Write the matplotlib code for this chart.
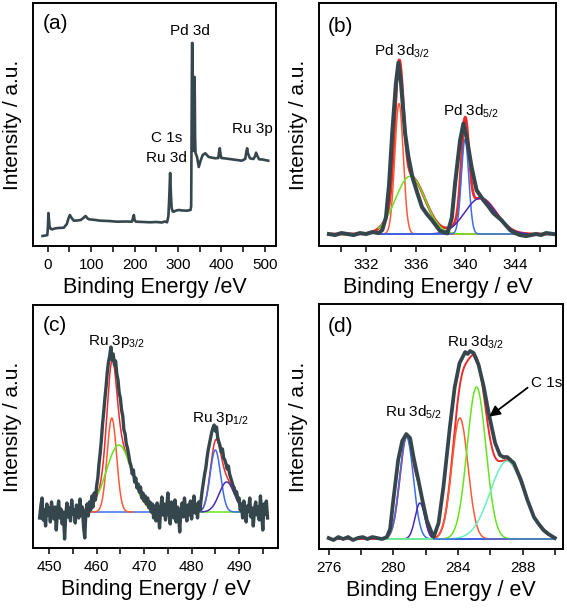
import numpy as np
import matplotlib.pyplot as plt
from matplotlib.ticker import MultipleLocator

plt.rcParams['font.family'] = ['Liberation Sans', 'DejaVu Sans']
plt.rcParams['mathtext.default'] = 'regular'

TRACE = '#36464d'
FIT = '#ee2a2a'
ORANGE = '#ff5a34'
GREEN = '#66e41c'
BLUE = '#3c6ee6'
PURPLE = '#4a2ab4'
MINT = '#6af0c0'

# (a) survey spectrum
survey_energy = [-12, -5, -1, 0.5, 1.5, 2.5, 4, 7, 10.6, 18, 25, 37, 44, 48, 51, 55, 60, 68,
                 76, 82, 87, 92, 95, 110, 121, 140, 160, 180, 194, 197, 198.5, 200, 203, 220,
                 236, 250, 263, 270, 275, 278, 280, 282, 284, 285.5, 288, 290, 296, 302, 310,
                 321, 329, 330.5, 331.5, 332.5, 333.5, 334.5, 335.5, 336.5, 337.5, 338.5,
                 339.5, 340.5, 344, 348, 352, 357, 363, 371, 386, 393, 395, 396.5, 398, 400,
                 410, 424, 447, 455, 458, 459.5, 461, 466, 474, 478, 480, 482, 487, 495, 500, 508]
survey_counts = [10, 10.5, 11, 20, 33, 28, 20, 17, 16.7, 17.7, 18, 18.3, 22, 28, 31, 28, 25.3, 25.5,
                 26, 28, 30, 27.5, 26.7, 26, 25.3, 25, 24.3, 24.5, 24.3, 29, 31, 26, 24.3, 24,
                 23.7, 24, 23.5, 24.5, 23.7, 30, 49, 73, 50, 37.7, 34.5, 34.3, 35.5, 36, 35.5,
                 35.3, 36, 40, 120, 203, 203, 120, 95, 110, 169, 169,
                 110, 93, 89, 79, 85, 91, 92.7, 89, 87.7, 88, 95, 97.7, 92, 88,
                 87.5, 86.7, 85.3, 87, 95, 97.7, 93, 87.7, 87, 90, 93.3, 91, 86.7, 86.5, 86, 85.3]

# (b) Pd 3d
pd_energy = [329.0, 329.5, 330.0, 330.5, 331.0, 331.5, 332.0, 332.5, 333.0, 333.3, 333.6,
             333.85, 334.1, 334.4, 334.6, 334.8, 335.14, 335.4, 335.73, 336.13, 336.5, 336.9,
             337.3, 337.9, 338.2, 338.55, 338.9, 339.17, 339.57, 339.84, 340.1, 340.5, 340.9,
             341.45, 341.9, 342.25, 342.9, 343.6, 344.0, 344.4, 344.9, 345.3, 345.7, 346.1,
             346.5, 347.1]
pd_counts = [12, 11, 13, 12, 11, 13, 12, 14, 13, 16, 29,
             62, 113, 163, 184, 165, 113, 90, 69, 53, 39, 32,
             26, 16, 14, 12.7, 28, 63, 106, 123, 109, 79, 56,
             46, 39, 33, 26, 16, 13, 11, 10, 11, 12, 11,
             13, 12]
pd_base = 12
pd_centers = [334.65, 335.55, 339.97, 341.2]
pd_heights = [131, 58, 95, 36]
pd_sigmas = [0.34, 1.19, 0.3, 1.25]
pd_colors = [ORANGE, GREEN, BLUE, PURPLE]

# (c) Ru 3p, 0.25 eV steps from 448 eV
ru3p_start = 448.0
ru3p_step = 0.25
ru3p_counts = [
    30, 42, 50, 28, 38, 22, 44, 33, 40, 26, 46, 35, 29, 41, 18, 37, 47, 30, 39, 24, 36, 9, 33, 45,
    31, 40, 27, 48, 34, 38, 25, 43, 36, 30, 49, 33, 41, 21, 10, 37, 44, 32, 46, 38, 52, 41, 55, 48,
    62, 70, 84, 95, 108, 124, 136, 150, 162, 176, 186, 192, 201, 188, 194, 183, 187, 174, 168, 155,
    150, 138, 132, 118, 114, 104, 100, 93, 86, 82, 74, 78, 66, 70, 60, 64, 56, 61, 50, 55, 47, 52,
    44, 50, 40, 46, 36, 44,
    30, 42, 27, 45, 38, 20, 40, 51, 33, 44, 28, 39, 55, 35, 24, 46, 37, 30, 48, 26, 41, 34, 16, 39,
    45, 31, 50, 36, 27, 43, 33, 47, 29, 40, 52, 35, 44, 30, 46, 38,
    48, 58, 66, 74, 80, 90, 98, 104, 110, 116, 120, 123, 117, 121, 110, 106, 102, 96, 99, 90, 88,
    84, 79, 82, 74, 70, 66, 62, 60, 54, 56, 48, 50,
    38, 44, 30, 47, 35, 26, 42, 37, 50, 31, 40, 22, 39, 46, 33, 41, 28, 52, 36, 18, 44, 34, 47, 30]
ru3p_base = 36
ru3p_centers = [463.2, 464.7, 485.0, 487.4]
ru3p_heights = [94, 67, 62, 30]
ru3p_sigmas = [1.0, 2.7, 1.1, 1.6]
ru3p_windows = [(458.6, 467.6), (460.4, 471.5), (482.0, 491.0), (482.1, 490.5)]
ru3p_colors = [ORANGE, GREEN, BLUE, PURPLE]

# (d) Ru 3d / C 1s
ru3d_energy = [276.0, 276.3, 276.6, 276.9, 277.2, 277.5, 277.8, 278.1, 278.4, 278.7, 279.0,
               279.3, 279.6, 279.8, 280.0, 280.3, 280.55, 280.8, 281.04, 281.25, 281.55,
               281.76, 282.07, 282.38, 282.5, 282.8, 283.1, 283.5, 283.8, 284.1, 284.45, 284.6,
               284.75, 284.97, 285.28, 285.6, 285.9, 286.3, 286.6, 286.8, 287.05, 287.25,
               287.46, 287.9, 288.3, 288.7, 289.0, 289.3, 289.6, 290.0]
ru3d_counts = [11, 9, 12, 10, 12, 9, 11, 12, 10, 12, 11,
               10, 12, 20, 49, 89, 108, 115, 111, 92, 69,
               52, 29, 16, 12, 26, 62, 122, 162, 186, 197, 195,
               198, 196, 184, 162, 136, 106, 94, 92, 92, 89,
               86, 69, 49, 32, 25, 19, 15, 11]
ru3d_base = 10
ru3d_centers = [280.82, 281.65, 284.12, 285.15, 287.05]
ru3d_heights = [102, 36, 121, 152, 78]
ru3d_sigmas = [0.42, 0.3, 0.5, 0.58, 1.05]
ru3d_colors = [BLUE, PURPLE, ORANGE, GREEN, MINT]


def gauss(x, c, a, s):
    return a * np.exp(-(x - c) ** 2 / (2 * s * s))


def setup(ax, xlim, ylim, major, minor, xlabel):
    ax.set_xlim(*xlim)
    ax.set_ylim(*ylim)
    ax.set_yticks([])
    ax.xaxis.set_major_locator(MultipleLocator(major))
    ax.xaxis.set_minor_locator(MultipleLocator(minor))
    ax.tick_params(axis='x', which='both', direction='out', length=4.5, width=1.1,
                   labelsize=11, pad=4)
    for sp in ax.spines.values():
        sp.set_linewidth(1.4)
    ax.set_xlabel(xlabel, fontsize=15.5, labelpad=4)
    ax.set_ylabel('Intensity / a.u.', fontsize=15, labelpad=8)


fig = plt.figure(figsize=(5.67, 6.08), dpi=100)
ax_a = fig.add_axes([0.0582, 0.5954, 0.4286, 0.3997])
ax_b = fig.add_axes([0.5626, 0.5954, 0.418, 0.3997])
ax_c = fig.add_axes([0.0582, 0.0987, 0.4321, 0.3997])
ax_d = fig.add_axes([0.5626, 0.0970, 0.4303, 0.403])

# (a)
ax_a.plot(survey_energy, survey_counts, color=TRACE, lw=1.9, solid_joinstyle='round')
setup(ax_a, (-34, 526), (0, 243), 100, 50, 'Binding Energy /eV')
ax_a.text(16.7, 222, '(a)', fontsize=15, ha='center', va='center')
ax_a.text(327, 211, 'Pd 3d', fontsize=11, ha='center', va='baseline')
ax_a.text(273, 104, 'C 1s', fontsize=11, ha='center', va='baseline')
ax_a.text(273.6, 84, 'Ru 3d', fontsize=11, ha='center', va='baseline')
ax_a.text(471, 112.7, 'Ru 3p', fontsize=11, ha='center', va='baseline')

# (b)
xb = np.linspace(333.0, 345.0, 600)
xf = np.linspace(329.3, 346.8, 800)
env = pd_base + sum(gauss(xf, c, a, s) for c, a, s in zip(pd_centers, pd_heights, pd_sigmas))
ax_b.plot(xf, env, color=FIT, lw=2.0)
for c, a, s, col in zip(pd_centers, pd_heights, pd_sigmas, pd_colors):
    ax_b.plot(xb, pd_base + gauss(xb, c, a, s), color=col, lw=1.1)
ax_b.plot([333.0, 338.5], [pd_base, pd_base], color=BLUE, lw=1.1)
ax_b.plot(pd_energy, pd_counts, color=TRACE, lw=2.9, solid_joinstyle='round')
setup(ax_b, (328.2, 347.3), (0, 244), 4, 2, 'Binding Energy / eV')
ax_b.text(329.9, 220, '(b)', fontsize=15, ha='center', va='center')
ax_b.text(332.67, 191, 'Pd 3d$_{3/2}$', fontsize=11, ha='left', va='baseline')
ax_b.text(338.2, 131, 'Pd 3d$_{5/2}$', fontsize=11, ha='left', va='baseline')

# (c)
ru3p_energy = ru3p_start + ru3p_step * np.arange(len(ru3p_counts))
xf = np.linspace(448.0, 496.0, 1200)
env = ru3p_base + sum(gauss(xf, c, a, s) for c, a, s in zip(ru3p_centers, ru3p_heights, ru3p_sigmas))
ax_c.plot(xf, env, color=FIT, lw=1.1)
ax_c.plot([458.6, 482.0], [ru3p_base, ru3p_base], color=BLUE, lw=1.1)
ax_c.plot([482.0, 491.5], [ru3p_base, ru3p_base], color=GREEN, lw=1.1)
for c, a, s, w, col in zip(ru3p_centers, ru3p_heights, ru3p_sigmas, ru3p_windows, ru3p_colors):
    xx = np.linspace(w[0], w[1], 400)
    ax_c.plot(xx, ru3p_base + gauss(xx, c, a, s), color=col, lw=1.1)
ax_c.plot(ru3p_energy, ru3p_counts, color=TRACE, lw=2.4)
setup(ax_c, (446.6, 498.2), (0, 243), 10, 5, 'Binding Energy / eV')
ax_c.text(451.2, 222, '(c)', fontsize=15, ha='center', va='center')
ax_c.text(458.1, 203, 'Ru 3p$_{3/2}$', fontsize=11, ha='left', va='baseline')
ax_c.text(480.1, 126, 'Ru 3p$_{1/2}$', fontsize=11, ha='left', va='baseline')

# (d)
xd = np.linspace(279.3, 290.0, 600)
xf = np.linspace(276.0, 290.0, 800)
env = ru3d_base + sum(gauss(xf, c, a, s) for c, a, s in zip(ru3d_centers, ru3d_heights, ru3d_sigmas))
ax_d.plot(xf, env, color=FIT, lw=1.4)
for c, a, s, col in zip(ru3d_centers, ru3d_heights, ru3d_sigmas, ru3d_colors):
    ax_d.plot(xd, ru3d_base + gauss(xd, c, a, s), color=col, lw=1.1)
ax_d.plot([282.5, 290.0], [ru3d_base, ru3d_base], color=BLUE, lw=1.1)
ax_d.plot(ru3d_energy, ru3d_counts, color=TRACE, lw=2.7, solid_joinstyle='round')
setup(ax_d, (275.4, 290.5), (0, 245), 4, 2, 'Binding Energy / eV')
ax_d.text(276.73, 223, '(d)', fontsize=15, ha='center', va='center')
ax_d.text(283.32, 202, 'Ru 3d$_{3/2}$', fontsize=11, ha='left', va='baseline')
ax_d.text(279.48, 132, 'Ru 3d$_{5/2}$', fontsize=11, ha='left', va='baseline')
ax_d.text(288.5, 161.7, 'C 1s', fontsize=11, ha='left', va='baseline')
ax_d.annotate('', xy=(285.8, 130.7), xytext=(288.45, 163),
              arrowprops=dict(arrowstyle='-|>', color='black', lw=1.3, mutation_scale=16))

fig.savefig('out.png', dpi=100)
